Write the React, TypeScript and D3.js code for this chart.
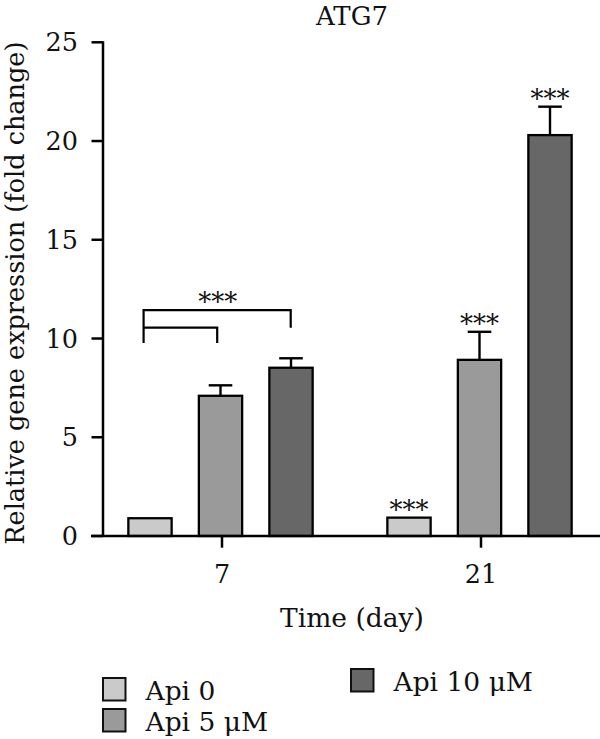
import React from "react";
import * as d3 from "d3";

// Time points (days) and treatment groups
const days = ["7", "21"];
const series = ["Api 0", "Api 5 μM", "Api 10 μM"];

// Mean fold change per day, one array per treatment
const api0 = [0.9, 0.93];
const api5 = [7.1, 8.92];
const api10 = [8.52, 20.3];

// Upper error (mean + SD) per day, one array per treatment
const api0Err = [0.9, 0.93];
const api5Err = [7.63, 10.34];
const api10Err = [9.0, 21.74];

// Significance marks per day and treatment ("" = none)
const api0Sig = ["", "***"];
const api5Sig = ["", "***"];
const api10Sig = ["", "***"];

const yTicks = [0, 5, 10, 15, 20, 25];
const colors = ["#cacaca", "#9a9a9a", "#676767"];

const FONT = "DejaVu Serif";

export default function App() {
  const W = 600;
  const H = 739;

  const y = d3.scaleLinear().domain([0, 25]).range([536, 42.3]);
  const x0 = d3.scaleBand().domain(days).range([91, 609]).paddingInner(0).paddingOuter(0);
  const x1 = d3
    .scaleBand()
    .domain(series)
    .range([37.35, 221.65])
    .paddingInner(0.386)
    .paddingOuter(0);
  const color = d3.scaleOrdinal<string, string>().domain(series).range(colors);

  const means = [api0, api5, api10];
  const errs = [api0Err, api5Err, api10Err];
  const sigs = [api0Sig, api5Sig, api10Sig];

  const bars = days.flatMap((d, di) =>
    series.map((s, si) => ({
      day: d,
      series: s,
      value: means[si][di],
      err: errs[si][di],
      sig: sigs[si][di],
    }))
  );

  const bw = x1.bandwidth();
  const cx = (day: string, s: string) => (x0(day) as number) + (x1(s) as number) + bw / 2;
  const gc = (day: string) => (x0(day) as number) + x0.bandwidth() / 2;

  const capHalf = 11.8;

  // comparison bracket for day 7 (Api 0 vs Api 5 and Api 10)
  const bl = cx("7", series[0]) - 6.4;
  const bs = cx("7", series[1]) - 3.3;
  const bL = cx("7", series[2]) - 0.3;
  const yTop = y(11.44);
  const yMid = y(10.55);
  const yLow = y(9.77);

  const axisStroke = 2.5;

  return (
    <svg width={W} height={H} style={{ position: "absolute", left: 0, top: 0, background: "#fff" }}>
      <rect x={0} y={0} width={W} height={H} fill="#fff" />
      <text x={352} y={25} textAnchor="middle" fontFamily={FONT} fontSize={26} fill="#111">
        ATG7
      </text>

      {/* y axis */}
      <line x1={103} x2={103} y1={y(25) - 1} y2={y(0)} stroke="#000" strokeWidth={axisStroke} />
      {yTicks.map((t) => (
        <g key={t}>
          <line x1={91.5} x2={103} y1={y(t)} y2={y(t)} stroke="#000" strokeWidth={axisStroke} />
          <text
            x={78}
            y={y(t)}
            dy="0.36em"
            textAnchor="end"
            fontFamily={FONT}
            fontSize={25.5}
            fill="#111"
          >
            {t}
          </text>
        </g>
      ))}
      <text
        transform={`translate(24,${(y(25) + y(0)) / 2 + 4}) rotate(-90)`}
        textAnchor="middle"
        fontFamily={FONT}
        fontSize={25.5}
        fill="#111"
      >
        Relative gene expression (fold change)
      </text>

      {/* bars */}
      {bars.map((b) => {
        const c = cx(b.day, b.series);
        return (
          <g key={b.day + b.series}>
            {b.err > b.value && (
              <g stroke="#000" strokeWidth={2.4}>
                <line x1={c} x2={c} y1={y(b.value)} y2={y(b.err)} />
                <line x1={c - capHalf} x2={c + capHalf} y1={y(b.err)} y2={y(b.err)} />
              </g>
            )}
            <rect
              x={c - bw / 2}
              y={y(b.value)}
              width={bw}
              height={y(0) - y(b.value)}
              fill={color(b.series)}
              stroke="#000"
              strokeWidth={2.3}
            />
            {b.sig && (
              <text
                x={c}
                y={y(b.err) + 1}
                textAnchor="middle"
                fontFamily={FONT}
                fontSize={26}
                fill="#111"
              >
                {b.sig}
              </text>
            )}
          </g>
        );
      })}

      {/* bracket */}
      <g stroke="#000" strokeWidth={2.2} fill="none">
        <path d={`M${bl},${yLow}V${yTop}H${bL}V${yMid}`} />
        <path d={`M${bl},${yMid}H${bs}V${yLow}`} />
      </g>
      <text x={(bl + bL) / 2 + 0.5} y={yTop + 1} textAnchor="middle" fontFamily={FONT} fontSize={26} fill="#111">
        ***
      </text>

      {/* x axis */}
      <line x1={91} x2={600} y1={y(0)} y2={y(0)} stroke="#000" strokeWidth={axisStroke} />
      {days.map((d) => (
        <g key={d}>
          <line x1={gc(d) + 1.5} x2={gc(d) + 1.5} y1={y(0)} y2={547.7} stroke="#000" strokeWidth={axisStroke} />
          <text x={gc(d) + 1.5} y={583} textAnchor="middle" fontFamily={FONT} fontSize={25.5} fill="#111">
            {d}
          </text>
        </g>
      ))}
      <text x={352} y={627} textAnchor="middle" fontFamily={FONT} fontSize={26.5} fill="#111">
        Time (day)
      </text>

      {/* legend */}
      {[
        { s: series[0], x: 103, y: 678 },
        { s: series[2], x: 351, y: 669 },
        { s: series[1], x: 103, y: 709 },
      ].map((l) => (
        <g key={l.s}>
          <rect x={l.x} y={l.y} width={22.5} height={22.5} fill={color(l.s)} stroke="#111" strokeWidth={2} />
          <text x={l.x + 42.5} y={l.y + 22} fontFamily={FONT} fontSize={26.5} fill="#111">
            {l.s}
          </text>
        </g>
      ))}
    </svg>
  );
}
